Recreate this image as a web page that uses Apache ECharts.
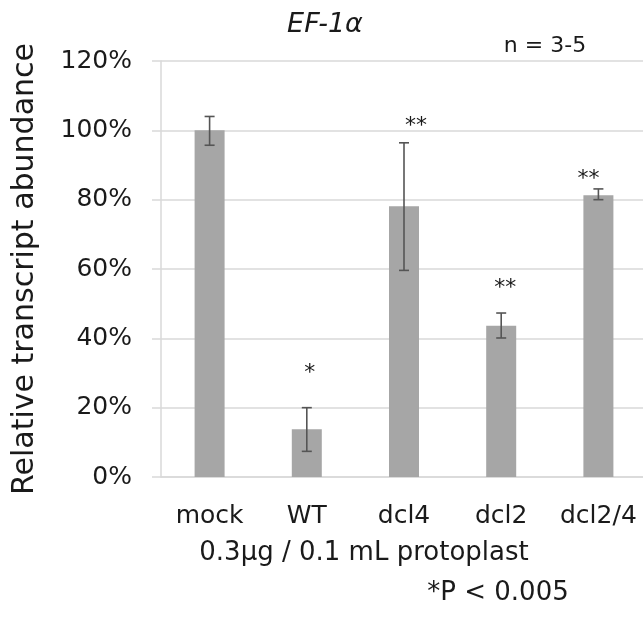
<!DOCTYPE html>
<html>
<head>
<meta charset="utf-8">
<script src="https://cdn.jsdelivr.net/npm/echarts@6/dist/echarts.min.js"></script>
<style>
  html, body { margin: 0; padding: 0; background: #fff; }
  #chart { width: 643px; height: 617px; }
</style>
</head>
<body>
<div id="chart"></div>
<script>
  // data
  var categories = ['mock', 'WT', 'dcl4', 'dcl2', 'dcl2/4']
  var abundance = [1.00, 0.138, 0.781, 0.436, 0.813]
  var errLow = [0.957, 0.074, 0.596, 0.401, 0.800]
  var errHigh = [1.040, 0.200, 0.964, 0.473, 0.831]
  var sigMarks = ['', '*', '**', '**', '**']
  var sigPos = [0, 0.314, 1.025, 0.559, 0.873]
  var yTicks = [0, 0.2, 0.4, 0.6, 0.8, 1.0, 1.2]

  var font = 'DejaVu Sans'
  var grey = '#d9d9d9'
  var starNudge = [0, 3, 12, 4, -10]

  var myChart = echarts.init(document.getElementById('chart'))

  var option = {
    backgroundColor: '#fff',
    animation: false,
    grid: { left: 161, top: 61, right: -4, bottom: 140, outerBoundsMode: 'none', containLabel: false },
    xAxis: {
      type: 'category',
      data: categories,
      axisLine: { lineStyle: { color: grey, width: 1.5 } },
      axisTick: { show: false },
      axisLabel: { color: '#1a1a1a', fontFamily: font, fontSize: 25, margin: 27, interval: 0 }
    },
    yAxis: {
      type: 'value',
      min: yTicks[0],
      max: yTicks[yTicks.length - 1],
      interval: 0.2,
      name: 'Relative transcript abundance',
      nameLocation: 'middle',
      nameGap: 121,
      nameTextStyle: { color: '#1a1a1a', fontFamily: font, fontSize: 30 },
      axisLine: { show: true, lineStyle: { color: grey, width: 1.5 } },
      axisTick: { show: true, length: 9, lineStyle: { color: grey, width: 1.5 } },
      splitLine: { lineStyle: { color: grey, width: 1.5 } },
      axisLabel: {
        color: '#1a1a1a',
        fontFamily: font,
        fontSize: 25,
        margin: 29,
        formatter: function (v) { return Math.round(v * 100) + '%' }
      }
    },
    graphic: [
      { type: 'text', x: 325, y: 25, style: { text: 'EF-1α', font: 'italic 27px "DejaVu Sans"', fill: '#1a1a1a', textAlign: 'center', textVerticalAlign: 'middle' } },
      { type: 'text', x: 545, y: 46, style: { text: 'n = 3-5', font: '22px "DejaVu Sans"', fill: '#1a1a1a', textAlign: 'center', textVerticalAlign: 'middle' } },
      { type: 'text', x: 364, y: 553, style: { text: '0.3μg / 0.1 mL protoplast', font: '26px "DejaVu Sans"', fill: '#1a1a1a', textAlign: 'center', textVerticalAlign: 'middle' } },
      { type: 'text', x: 498, y: 593, style: { text: '*P < 0.005', font: '26px "DejaVu Sans"', fill: '#1a1a1a', textAlign: 'center', textVerticalAlign: 'middle' } }
    ],
    series: [
      {
        type: 'bar',
        data: abundance,
        barWidth: 30,
        itemStyle: { color: '#a6a6a6' }
      },
      {
        type: 'custom',
        data: categories.map(function (c, i) { return [i, errLow[i], errHigh[i]] }),
        renderItem: function (params, api) {
          var lo = api.coord([api.value(0), api.value(1)])
          var hi = api.coord([api.value(0), api.value(2)])
          var cap = 5
          var st = { stroke: '#555555', lineWidth: 1.6 }
          return {
            type: 'group',
            children: [
              { type: 'line', shape: { x1: lo[0], y1: lo[1], x2: hi[0], y2: hi[1] }, style: st },
              { type: 'line', shape: { x1: lo[0] - cap, y1: lo[1], x2: lo[0] + cap, y2: lo[1] }, style: st },
              { type: 'line', shape: { x1: hi[0] - cap, y1: hi[1], x2: hi[0] + cap, y2: hi[1] }, style: st }
            ]
          }
        },
        z: 5
      },
      {
        type: 'custom',
        data: categories.map(function (c, i) { return [i, sigPos[i]] }),
        renderItem: function (params, api) {
          var i = params.dataIndex
          var p = api.coord([api.value(0), api.value(1)])
          return {
            type: 'text',
            x: p[0] + starNudge[i],
            y: p[1] + 5,
            style: {
              text: sigMarks[i],
              font: '22px "DejaVu Sans"',
              fill: '#1a1a1a',
              textAlign: 'center',
              textVerticalAlign: 'middle'
            }
          }
        },
        z: 6
      }
    ]
  }
  myChart.setOption(option)
</script>
</body>
</html>
